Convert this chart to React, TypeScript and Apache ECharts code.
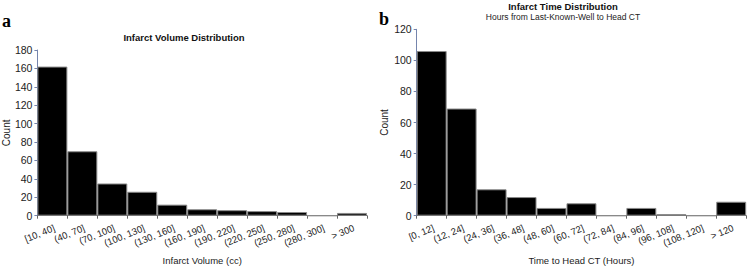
import React, { useEffect, useRef } from "react";
import * as echarts from "echarts";

const volumeCategories = ["[10, 40]", "(40, 70]", "(70, 100]", "(100, 130]", "(130, 160]", "(160, 190]", "(190, 220]", "(220, 250]", "(250, 280]", "(280, 300]", "> 300"];
const volumeCounts = [162, 70, 35, 26, 12, 7, 6, 5, 4, 0, 3];
const volumeTicks = { min: 0, max: 180, interval: 20 };

const timeCategories = ["[0, 12]", "(12, 24]", "(24, 36]", "(36, 48]", "(48, 60]", "(60, 72]", "(72, 84]", "(84, 96]", "(96, 108]", "(108, 120]", "> 120"];
const timeCounts = [106, 69, 17, 12, 5, 8, 0, 5, 1, 0, 9];
const timeTicks = { min: 0, max: 120, interval: 20 };

const FONT = "Arial";

export default function App() {
  const ref = useRef<HTMLDivElement>(null);
  useEffect(() => {
    if (!ref.current) return;
    const chart = echarts.init(ref.current, undefined, { renderer: "svg" });
    const xAxisCommon = (cats: string[], name: string, gridIndex: number) => ({
      type: "category" as const,
      gridIndex,
      data: cats,
      name,
      nameLocation: "middle" as const,
      nameGap: 40,
      nameTextStyle: { fontFamily: FONT, fontSize: 9.5, color: "#222" },
      axisLine: { lineStyle: { color: "#666", width: 1 } },
      axisTick: { show: true, length: 3, lineStyle: { color: "#666" } },
      axisLabel: { rotate: 22, fontFamily: FONT, fontSize: 9.5, color: "#222", margin: 7, interval: 0, align: "right", verticalAlign: "top" },
    });
    const yAxisCommon = (t: { min: number; max: number; interval: number }, gridIndex: number, nameGap: number) => ({
      type: "value" as const,
      gridIndex,
      min: t.min,
      max: t.max,
      interval: t.interval,
      name: "Count",
      nameLocation: "middle" as const,
      nameGap,
      nameTextStyle: { fontFamily: FONT, fontSize: 10, color: "#222" },
      axisLine: { show: true, lineStyle: { color: "#7585ad", width: 1 } },
      axisTick: { show: true, length: 3, lineStyle: { color: "#7585ad" } },
      axisLabel: { fontFamily: FONT, fontSize: 10.5, color: "#222", margin: 5 },
      splitLine: { show: false },
    });
    const barStyle = { color: "#000", borderColor: "#8a8a8a", borderWidth: 1 };
    chart.setOption({
      animation: false,
      grid: [
        { left: 37, top: 50, width: 330, height: 165.7 },
        { left: 416.7, top: 29.3, width: 329.5, height: 186.4 },
      ],
      xAxis: [
        xAxisCommon(volumeCategories, "Infarct Volume (cc)", 0),
        xAxisCommon(timeCategories, "Time to Head CT (Hours)", 1),
      ],
      yAxis: [yAxisCommon(volumeTicks, 0, 26), yAxisCommon(timeTicks, 1, 27)],
      series: [
        { type: "bar", xAxisIndex: 0, yAxisIndex: 0, data: volumeCounts, barCategoryGap: "0%", itemStyle: barStyle },
        { type: "bar", xAxisIndex: 1, yAxisIndex: 1, data: timeCounts, barCategoryGap: "0%", itemStyle: barStyle },
      ],
      graphic: [
        { type: "text", x: 2, y: 21, style: { text: "a", font: "bold 18px Times New Roman", fill: "#000", textVerticalAlign: "middle" } },
        { type: "text", x: 379, y: 19, style: { text: "b", font: "bold 18px Times New Roman", fill: "#000", textVerticalAlign: "middle" } },
        { type: "text", x: 184, y: 37, style: { text: "Infarct Volume Distribution", font: `bold 9.5px ${FONT}`, fill: "#111", textAlign: "center", textVerticalAlign: "middle" } },
        { type: "text", x: 563, y: 6, style: { text: "Infarct Time Distribution", font: `bold 9.5px ${FONT}`, fill: "#111", textAlign: "center", textVerticalAlign: "middle" } },
        { type: "text", x: 563, y: 16.5, style: { text: "Hours from Last-Known-Well to Head CT", font: `8.5px ${FONT}`, fill: "#222", textAlign: "center", textVerticalAlign: "middle" } },
      ],
    });
    return () => chart.dispose();
  }, []);
  return <div ref={ref} style={{ position: "fixed", left: 0, top: 0, width: 749, height: 271, background: "#fff" }} />;
}
